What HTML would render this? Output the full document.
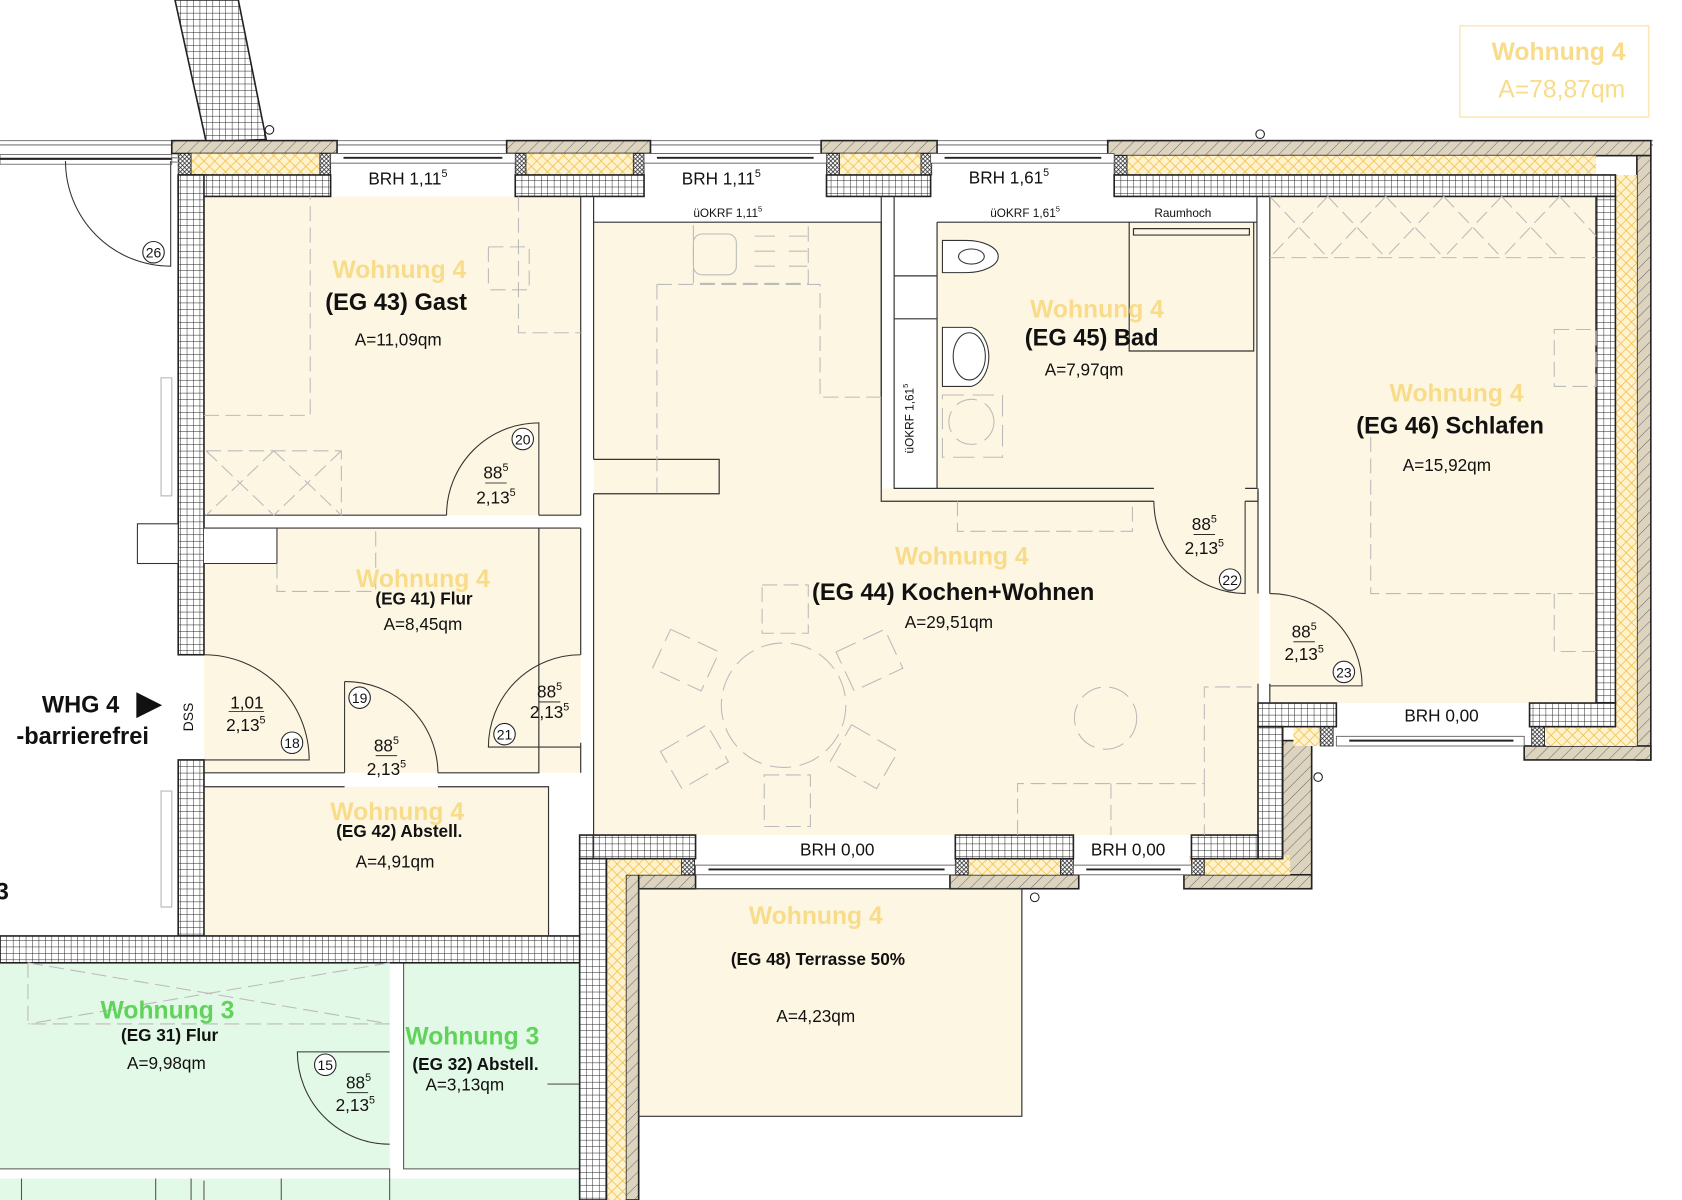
<!DOCTYPE html>
<html><head><meta charset="utf-8">
<style>
html,body{margin:0;padding:0;background:#fff;}
svg{display:block;}
text{font-family:"Liberation Sans",sans-serif;}
</style></head>
<body>
<svg width="1682" height="1200" viewBox="0 0 1567 1118" xmlns="http://www.w3.org/2000/svg">
<defs>
<pattern id="grid" width="6" height="6" patternUnits="userSpaceOnUse">
<rect width="6" height="6" fill="#fff"/><path d="M0 0H6M0 0V6" stroke="#222" stroke-width="0.9"/>
</pattern>
<pattern id="hatch" width="8" height="8" patternUnits="userSpaceOnUse" patternTransform="rotate(45)">
<rect width="8" height="8" fill="#ddd4bf"/><path d="M0 0V8" stroke="#555" stroke-width="0.8"/>
</pattern>
<pattern id="ins" width="10" height="20" patternUnits="userSpaceOnUse">
<rect width="10" height="20" fill="#fff3cf"/><path d="M0 0L10 10L0 20M10 0L0 10L10 20" stroke="#f2c14e" stroke-width="0.8" fill="none"/>
</pattern>
<pattern id="insv" width="20" height="10" patternUnits="userSpaceOnUse">
<rect width="20" height="10" fill="#fff3cf"/><path d="M0 0L10 10L20 0M0 10L10 0L20 10" stroke="#f2c14e" stroke-width="0.8" fill="none"/>
</pattern>
<pattern id="xh" width="4" height="4" patternUnits="userSpaceOnUse">
<rect width="4" height="4" fill="#fff"/><path d="M0 0L4 4M4 0L0 4" stroke="#222" stroke-width="0.7"/>
</pattern>
</defs>

<rect x="1360" y="24" width="176" height="85" fill="#fff" stroke="#fbe9b6" stroke-width="1.5"/>
<text x="1452" y="56" font-size="23" font-weight="bold" fill="#f8dc8a" text-anchor="middle">Wohnung 4</text>
<text x="1455" y="91" font-size="23" fill="#f8dc8a" text-anchor="middle">A=78,87qm</text>

<polygon points="163,0 222,0 248,130 192,132" fill="url(#grid)" stroke="#222" stroke-width="1.5"/>
<circle cx="251" cy="121" r="4" fill="#fff" stroke="#222"/>
<circle cx="1174" cy="125" r="4" fill="#fff" stroke="#222"/>

<g fill="#fdf6e3">
<rect x="190" y="183" width="351" height="297"/>
<rect x="190" y="492" width="351" height="228"/>
<rect x="553" y="207" width="268" height="571"/>
<rect x="553" y="455" width="620" height="323"/>
<rect x="873" y="207" width="298" height="248"/>
<rect x="1183" y="183" width="304" height="472"/>
<rect x="190" y="733" width="320" height="139"/>
<rect x="595" y="828" width="357" height="212"/>
</g>
<g fill="#e3f9e8">
<rect x="0" y="897" width="363" height="192"/>
<rect x="376" y="897" width="164" height="192"/>
<rect x="0" y="1098" width="540" height="20"/>
</g>
<g stroke="#555" stroke-width="1" fill="none">
<path d="M0 1089H363V1118M376 897V1089H540M510 1010H540"/>
<path d="M20 1098V1118M145 1098V1118M178 1098V1118M190 1100V1118M262 1098V1118"/>
</g>

<g stroke="#777" stroke-width="1" fill="none">
<path d="M0 131H1540M0 135H1540"/>
<path d="M0 147H165M0 151H165"/>
</g>
<rect x="0" y="144" width="160" height="9" fill="#fff" stroke="#666" stroke-width="0.8"/>
<path d="M0 148H160" stroke="#222" stroke-width="2"/>

<g stroke="#222" stroke-width="1.5" fill="url(#hatch)">
<rect x="160" y="131" width="154" height="12"/>
<rect x="472" y="131" width="134" height="12"/>
<rect x="765" y="131" width="108" height="12"/>
<rect x="1032" y="131" width="506" height="14"/>
<rect x="1525" y="145" width="13" height="563"/>
<rect x="1420" y="695" width="118" height="13"/>
<rect x="1195" y="690" width="27" height="138" />
<rect x="1103" y="815" width="119" height="13"/>
<rect x="885" y="815" width="120" height="13"/>
<rect x="583" y="815" width="65" height="13"/>
<rect x="583" y="815" width="12" height="303"/>
</g>
<g fill="url(#ins)">
<rect x="178" y="143" width="120" height="20"/>
<rect x="490" y="143" width="100" height="20"/>
<rect x="782" y="143" width="76" height="20"/>
<rect x="1050" y="145" width="437" height="18"/>
<rect x="1108" y="797" width="94" height="18"/>
<rect x="900" y="800" width="88" height="15"/>
<rect x="575" y="800" width="60" height="15"/>
<rect x="1205" y="677" width="30" height="18"/>
<rect x="1440" y="677" width="65" height="18"/>
</g>
<g fill="url(#insv)">
<rect x="1505" y="163" width="20" height="532"/>
<rect x="565" y="800" width="18" height="318"/>
<rect x="1178" y="677" width="17" height="120"/>
</g>
<g fill="url(#xh)" stroke="#222" stroke-width="0.8">
<rect x="166" y="143" width="12" height="20"/><rect x="298" y="143" width="10" height="20"/>
<rect x="480" y="143" width="10" height="20"/><rect x="590" y="143" width="10" height="20"/>
<rect x="770" y="143" width="12" height="20"/><rect x="858" y="143" width="10" height="20"/>
<rect x="1038" y="145" width="12" height="18"/>
<rect x="1230" y="677" width="12" height="18"/><rect x="1427" y="677" width="12" height="18"/>
<rect x="1110" y="797" width="12" height="18"/><rect x="988" y="797" width="12" height="18"/>
<rect x="890" y="797" width="12" height="18"/><rect x="635" y="797" width="12" height="18"/>
</g>
<g fill="url(#grid)" stroke="#222" stroke-width="1.5">
<rect x="166" y="163" width="142" height="20"/>
<rect x="480" y="163" width="120" height="20"/>
<rect x="770" y="163" width="97" height="20"/>
<rect x="1038" y="163" width="467" height="20"/>
<rect x="1487" y="183" width="18" height="472"/>
<rect x="1425" y="655" width="80" height="22"/>
<rect x="1172" y="655" width="73" height="22"/>
<rect x="1172" y="677" width="23" height="123"/>
<rect x="1110" y="778" width="62" height="22"/>
<rect x="890" y="778" width="110" height="22"/>
<rect x="540" y="778" width="108" height="22"/>
<rect x="540" y="800" width="25" height="318"/>
<rect x="166" y="163" width="24" height="447"/>
<rect x="166" y="708" width="24" height="164"/>
<rect x="0" y="872" width="540" height="25"/>
</g>

<g fill="#fff" stroke="#555" stroke-width="0.8">
<rect x="308" y="143" width="172" height="9"/>
<rect x="600" y="143" width="170" height="9"/>
<rect x="867" y="143" width="171" height="9"/>
<rect x="1245" y="686" width="175" height="9"/>
<rect x="648" y="806" width="242" height="9"/>
<rect x="1000" y="806" width="110" height="9"/>
</g>
<g stroke="#222" stroke-width="1.8">
<path d="M320 147H468M612 147H758M880 147H1026M1257 690H1410M660 810H880M1012 810H1100"/>
</g>

<g stroke="#333" stroke-width="1.1" fill="none">
<path d="M541 183V480M553 183V428M553 460V778"/>
<path d="M190 480H416M502 480H541"/>
<path d="M258 492H541"/>
<path d="M502 492V720H408M321 720H190"/>
<path d="M541 492V610M541 692V720"/>
<path d="M190 733H321M408 733H511V872"/>
<path d="M553 428H670V460H553"/>
<path d="M553 207H821V370"/>
<path d="M821 183V467H1075M1160 467H1172V455"/>
<path d="M833 183V455H1075M1160 455H1171V183"/>
<path d="M833 257H873V297H833M873 207V455M873 207H1171"/>
<path d="M1052 207V327H1168V207M1056 213H1164V219H1056Z"/>
<path d="M1183 183V553M1172 458V553M1172 637V655M1183 637V655"/>
<path d="M553 778V800"/>
<path d="M595 828H952V1040H595Z"/>
<path d="M150 352H160V462H150ZM150 737H160V845H150Z" stroke="#bbb"/>
</g>
<path d="M190 492H258V525H190" fill="#fff" stroke="#333"/>
<rect x="128" y="488" width="38" height="37" fill="#fff" stroke="#333"/>

<g stroke="#333" stroke-width="1" fill="none">
<path d="M416 480A86 86 0 0 1 502 394V480"/>
<path d="M159 150V248A98 98 0 0 1 61 150"/>
<path d="M190 610A98 98 0 0 1 288 708H190"/>
<path d="M321 635V720M321 635A86 86 0 0 1 408 720"/>
<path d="M541 610A86 86 0 0 0 455 696H541"/>
<path d="M1160 467V553A86 86 0 0 1 1075 467"/>
<path d="M1183 553A86 86 0 0 1 1269 639H1183"/>
<path d="M363 980H277A86 86 0 0 0 363 1066"/>
</g>
<g fill="#fff" stroke="#222" stroke-width="1">
<circle cx="143" cy="235" r="10"/><circle cx="487" cy="409" r="10"/>
<circle cx="272" cy="692" r="10"/><circle cx="335" cy="650" r="10"/>
<circle cx="470" cy="684" r="10"/><circle cx="1146" cy="540" r="10"/>
<circle cx="1252" cy="626" r="10"/><circle cx="303" cy="992" r="10"/>
<circle cx="1228" cy="724" r="4"/><circle cx="964" cy="836" r="4"/>
</g>
<g font-size="13" text-anchor="middle" fill="#111">
<text x="143" y="240">26</text><text x="487" y="414">20</text><text x="272" y="697">18</text>
<text x="335" y="655">19</text><text x="470" y="689">21</text><text x="1146" y="545">22</text>
<text x="1252" y="631">23</text><text x="303" y="997">15</text>
</g>

<g stroke="#bbb" stroke-width="1" fill="none" stroke-dasharray="14 6">
<path d="M190 387H289V183M483 183V310H541M455 230V270M455 230H493V270H455"/>
<path d="M192 420H318V480M192 420L255 480M255 420L318 480M255 420L192 480M318 420L255 480"/>
<path d="M258 525V551H350V492"/>
<path d="M612 265H764V370H821M612 265V460M646 210V264H753V210"/>
<path d="M892 467V495H1055V467"/>
<path d="M1183 240H1487M1183 183L1237 240M1237 183L1183 240M1237 183L1291 240M1291 183L1237 240M1291 183L1345 240M1345 183L1291 240M1345 183L1399 240M1399 183L1345 240M1399 183L1453 240M1453 183L1399 240M1453 183L1487 220"/>
<path d="M1277 407V553H1487M1448 307H1487V360H1448ZM1448 553V607H1487"/>
<path d="M948 778V730H1122V778M1035 730V778M1122 730V640H1170"/>
<path d="M710 545H753V590H710ZM712 722H755V770H712Z"/>
<path d="M26 897V954H363M26 897L363 954M363 897L26 954"/>
</g>
<g stroke="#bbb" stroke-width="1" fill="none" stroke-dasharray="20 8">
<circle cx="730" cy="657" r="58"/>
<circle cx="1030" cy="669" r="29"/>
<circle cx="905" cy="393" r="21"/>
<rect x="646" y="218" width="40" height="38" rx="8" stroke-dasharray="none"/>
<path d="M703 220H722M703 234H722M703 248H722M735 220H752M735 234H752M735 248H752" stroke-dasharray="none"/>
<rect x="878" y="368" width="56" height="58"/>
<rect x="614" y="595" width="50" height="40" transform="rotate(25 639 615)"/>
<rect x="785" y="595" width="50" height="40" transform="rotate(-25 810 615)"/>
<rect x="622" y="685" width="50" height="40" transform="rotate(-30 647 705)"/>
<rect x="780" y="685" width="50" height="40" transform="rotate(30 805 705)"/>
</g>
<g stroke="#333" stroke-width="1" fill="#fff">
<path d="M878 224H900A30 15 0 1 1 900 254H878Z"/><ellipse cx="905" cy="239" rx="12" ry="7"/>
<path d="M878 305H905A20 28 0 0 1 905 360H878Z"/><ellipse cx="903" cy="332" rx="15" ry="22"/>
</g>

<g text-anchor="middle">
<g font-size="23" font-weight="bold" fill="#f8dc8a">
<text x="372" y="259">Wohnung 4</text>
<text x="394" y="547">Wohnung 4</text>
<text x="370" y="764">Wohnung 4</text>
<text x="896" y="526">Wohnung 4</text>
<text x="1022" y="296">Wohnung 4</text>
<text x="1357" y="374">Wohnung 4</text>
<text x="760" y="861">Wohnung 4</text>
</g>
<g font-size="23" font-weight="bold" fill="#5fd35a">
<text x="156" y="949">Wohnung 3</text>
<text x="440" y="973">Wohnung 3</text>
</g>
<g font-weight="bold" fill="#111">
<text x="369" y="289" font-size="22">(EG 43) Gast</text>
<text x="1017" y="322" font-size="22">(EG 45) Bad</text>
<text x="888" y="559" font-size="22">(EG 44) Kochen+Wohnen</text>
<text x="1351" y="404" font-size="22">(EG 46) Schlafen</text>
<text x="395" y="563" font-size="16">(EG 41) Flur</text>
<text x="372" y="780" font-size="16">(EG 42) Abstell.</text>
<text x="762" y="899" font-size="16">(EG 48) Terrasse 50%</text>
<text x="158" y="970" font-size="16">(EG 31) Flur</text>
<text x="443" y="997" font-size="16">(EG 32) Abstell.</text>
</g>
<g font-size="16" fill="#111">
<text x="371" y="322">A=11,09qm</text>
<text x="394" y="587">A=8,45qm</text>
<text x="368" y="808">A=4,91qm</text>
<text x="884" y="585">A=29,51qm</text>
<text x="1010" y="350">A=7,97qm</text>
<text x="1348" y="439">A=15,92qm</text>
<text x="760" y="952">A=4,23qm</text>
<text x="155" y="996">A=9,98qm</text>
<text x="433" y="1016">A=3,13qm</text>
</g>
<g font-size="16" fill="#111">
<text x="380" y="172">BRH 1,11<tspan font-size="10" dy="-7">5</tspan></text>
<text x="672" y="172">BRH 1,11<tspan font-size="10" dy="-7">5</tspan></text>
<text x="940" y="171">BRH 1,61<tspan font-size="10" dy="-7">5</tspan></text>
<text x="1343" y="672">BRH 0,00</text>
<text x="780" y="797">BRH 0,00</text>
<text x="1051" y="797">BRH 0,00</text>
</g>
<g font-size="11" fill="#111">
<text x="678" y="202">üOKRF 1,11<tspan font-size="7" dy="-5">5</tspan></text>
<text x="955" y="202">üOKRF 1,61<tspan font-size="7" dy="-5">5</tspan></text>
<text x="1102" y="202">Raumhoch</text>
<text transform="translate(851 390) rotate(-90)">üOKRF 1,61<tspan font-size="7" dy="-5">5</tspan></text>
</g>
<g font-size="16" fill="#111">
<text x="462" y="446">88<tspan font-size="10" dy="-7">5</tspan></text><text x="462" y="469">2,13<tspan font-size="10" dy="-7">5</tspan></text>
<text x="230" y="660">1,01</text><text x="229" y="681">2,13<tspan font-size="10" dy="-7">5</tspan></text>
<text x="360" y="700">88<tspan font-size="10" dy="-7">5</tspan></text><text x="360" y="722">2,13<tspan font-size="10" dy="-7">5</tspan></text>
<text x="512" y="650">88<tspan font-size="10" dy="-7">5</tspan></text><text x="512" y="669">2,13<tspan font-size="10" dy="-7">5</tspan></text>
<text x="1122" y="494">88<tspan font-size="10" dy="-7">5</tspan></text><text x="1122" y="516">2,13<tspan font-size="10" dy="-7">5</tspan></text>
<text x="1215" y="594">88<tspan font-size="10" dy="-7">5</tspan></text><text x="1215" y="615">2,13<tspan font-size="10" dy="-7">5</tspan></text>
<text x="334" y="1014">88<tspan font-size="10" dy="-7">5</tspan></text><text x="331" y="1035">2,13<tspan font-size="10" dy="-7">5</tspan></text>
</g>
<g stroke="#111" stroke-width="0.8">
<path d="M452 450H472M213 663H246M350 704H370M502 654H522M1112 498H1132M1205 598H1225M323 1018H343"/>
</g>
</g>
<text x="180" y="668" font-size="13" fill="#111" text-anchor="middle" transform="rotate(-90 180 668)">DSS</text>
<text x="75" y="664" font-size="22" font-weight="bold" fill="#111" text-anchor="middle">WHG 4</text>
<polygon points="127,645 127,669 151,657" fill="#111"/>
<text x="77" y="693" font-size="22" font-weight="bold" fill="#111" text-anchor="middle">-barrierefrei</text>
<text x="-4" y="838" font-size="22" font-weight="bold" fill="#111">3</text>
</svg>
</body></html>
